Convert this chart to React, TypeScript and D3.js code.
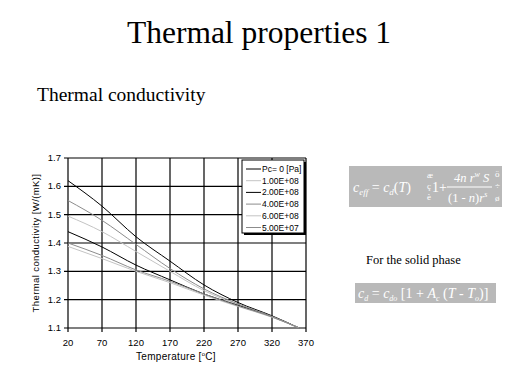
import * as d3 from 'd3'

const temps = [20, 70, 120, 170, 220, 270, 320, 360]

const seriesNames = ['Pc= 0 [Pa]', '1.00E+08', '2.00E+08', '4.00E+08', '6.00E+08', '5.00E+07']
const seriesColors = ['#000000', '#c4c4c4', '#000000', '#8c8c8c', '#c4c4c4', '#8c8c8c']

const pc0 = [1.62, 1.53, 1.422, 1.336, 1.252, 1.19, 1.143, 1.1]
const pc1e8 = [1.495, 1.44, 1.37, 1.3, 1.232, 1.182, 1.14, 1.1]
const pc2e8 = [1.44, 1.386, 1.322, 1.27, 1.22, 1.18, 1.14, 1.1]
const pc4e8 = [1.55, 1.48, 1.395, 1.31, 1.238, 1.185, 1.141, 1.1]
const pc6e8 = [1.388, 1.345, 1.3, 1.26, 1.216, 1.176, 1.138, 1.1]
const pc5e7 = [1.4, 1.356, 1.305, 1.265, 1.22, 1.178, 1.139, 1.1]

const seriesValues = [pc0, pc1e8, pc2e8, pc4e8, pc6e8, pc5e7]

const xTicks = [20, 70, 120, 170, 220, 270, 320, 370]
const yTicks = [1.1, 1.2, 1.3, 1.4, 1.5, 1.6, 1.7]

const W = 519
const H = 389
const sans = '"Liberation Sans", Arial, sans-serif'
const serif = '"Liberation Serif", "Times New Roman", serif'

export default function App() {
  const x = d3.scaleLinear().domain([20, 370]).range([68, 306])
  const y = d3.scaleLinear().domain([1.1, 1.7]).range([328, 158])

  const line = d3
    .line<number>()
    .x((_, i) => x(temps[i]))
    .y(d => y(d))
    .curve(d3.curveMonotoneX)

  const lg = { x: 242, y: 160, w: 62, h: 73 }
  const eqFill = '#b9b9b9'

  return (
    <svg width={W} height={H} style={{ position: 'absolute', left: 0, top: 0, background: '#fff' }}>
      <text x={259} y={43} textAnchor="middle" fontFamily={serif} fontSize={31.5}>Thermal properties 1</text>
      <text x={37} y={101} fontFamily={serif} fontSize={19.5}>Thermal conductivity</text>

      {/* grid */}
      <g stroke="#000" strokeWidth={1.2}>
        {xTicks.map(t => (
          <line key={'gx' + t} x1={x(t)} x2={x(t)} y1={y(1.7)} y2={y(1.1) + 4} />
        ))}
        {yTicks.map(t => (
          <line key={'gy' + t} x1={x(20) - 4} x2={x(370)} y1={y(t)} y2={y(t)} />
        ))}
      </g>

      {/* tick labels */}
      <g fontFamily={sans} fontSize={9.5} fill="#000">
        {xTicks.map(t => (
          <text key={'tx' + t} x={x(t)} y={346} textAnchor="middle">{t}</text>
        ))}
        {yTicks.map(t => (
          <text key={'ty' + t} x={61} y={y(t) + 3} textAnchor="end">{t.toFixed(1)}</text>
        ))}
      </g>

      <text x={176} y={360} textAnchor="middle" fontFamily={sans} fontSize={10} letterSpacing={0.3}>
        Temperature  [<tspan dy={-4} fontSize={6}>o</tspan><tspan dy={4}>C]</tspan>
      </text>
      <text
        transform={`translate(39,${(y(1.1) + y(1.7)) / 2}) rotate(-90)`}
        textAnchor="middle"
        fontFamily={sans}
        fontSize={9.5}
        letterSpacing={0.4}
      >
        Thermal conductivity  [W/(mK)]
      </text>

      {/* curves */}
      {seriesValues.map((vals, i) => (
        <path key={seriesNames[i]} d={line(vals) || ''} fill="none" stroke={seriesColors[i]} strokeWidth={1} />
      ))}

      {/* legend */}
      <rect x={lg.x + 2} y={lg.y + 2} width={lg.w} height={lg.h} fill="#000" />
      <rect x={lg.x} y={lg.y} width={lg.w} height={lg.h} fill="#fff" stroke="#000" strokeWidth={1} />
      {seriesNames.map((name, i) => {
        const ry = lg.y + 9 + i * 11.7
        return (
          <g key={'lg' + name}>
            <line x1={lg.x + 4} x2={lg.x + 19} y1={ry} y2={ry} stroke={seriesColors[i]} strokeWidth={1} />
            <text x={lg.x + 20} y={ry + 3} fontFamily={sans} fontSize={8.5}>{name}</text>
          </g>
        )
      })}

      {/* effective conductivity formula */}
      <rect x={349} y={166} width={153} height={41} fill={eqFill} />
      <g fill="#fff" fontFamily={serif} fontStyle="italic">
        <text x={353} y={192} fontSize={14}>c<tspan dy={3} fontSize={9}>eff</tspan><tspan dy={-3} fontStyle="normal"> = </tspan>c<tspan dy={3} fontSize={9}>d</tspan><tspan dy={-3} fontStyle="normal">(</tspan>T<tspan fontStyle="normal">)</tspan></text>
        <text x={427} y={178} fontSize={9} fontStyle="normal">æ</text>
        <text x={427} y={189} fontSize={9} fontStyle="normal">ç</text>
        <text x={427} y={200} fontSize={9} fontStyle="normal">è</text>
        <text x={432} y={192} fontSize={14} fontStyle="normal">1+</text>
        <text x={454} y={182} fontSize={12.5}>4n r<tspan dy={-5} fontSize={8}>w</tspan><tspan dy={5}> S</tspan></text>
        <line x1={447} x2={492} y1={187} y2={187} stroke="#fff" strokeWidth={1} />
        <text x={448} y={202} fontSize={12.5}><tspan fontStyle="normal">(1 - </tspan>n<tspan fontStyle="normal">)</tspan>r<tspan dy={-5} fontSize={8}>s</tspan></text>
        <text x={495} y={177} fontSize={9} fontStyle="normal">ö</text>
        <text x={495} y={189} fontSize={9} fontStyle="normal">÷</text>
        <text x={495} y={201} fontSize={9} fontStyle="normal">ø</text>
      </g>

      <text x={366} y={264} fontFamily={serif} fontSize={12.5}>For the solid phase</text>

      {/* solid phase formula */}
      <rect x={355} y={283} width={141} height={20} fill={eqFill} />
      <g fill="#fff" fontFamily={serif} fontStyle="italic">
        <text x={358} y={298} fontSize={14}>c<tspan dy={3} fontSize={8}>d</tspan><tspan dy={-3} fontStyle="normal"> = </tspan>c<tspan dy={3} fontSize={8}>do</tspan><tspan dy={-3} fontStyle="normal"> [1 + </tspan>A<tspan dy={3} fontSize={8}>c</tspan><tspan dy={-3} fontStyle="normal"> (</tspan>T<tspan fontStyle="normal"> - </tspan>T<tspan dy={3} fontSize={8}>o</tspan><tspan dy={-3} fontStyle="normal">)]</tspan></text>
      </g>
    </svg>
  )
}
